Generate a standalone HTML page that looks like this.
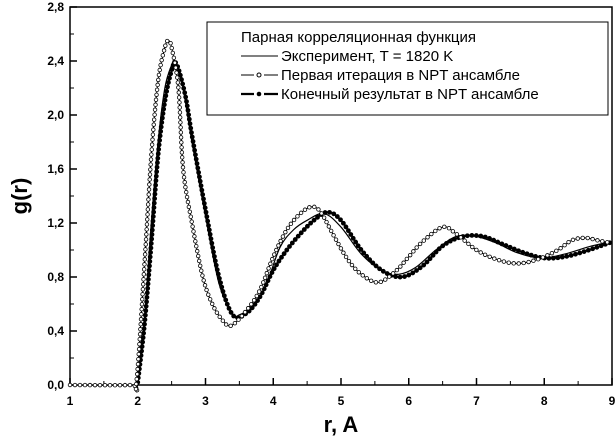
<!DOCTYPE html>
<html><head><meta charset="utf-8"><style>
body{margin:0;background:#fff}
svg text{font-family:"Liberation Sans",Arial,sans-serif;fill:#000}
</style></head><body>
<svg id="c" width="616" height="440" viewBox="0 0 616 440">
<rect x="70" y="7" width="542" height="378" fill="none" stroke="#000" stroke-width="1.5"/>
<g id="ticks"></g>
<g id="series"></g>
<g>
<rect x="207" y="22" width="401" height="93" fill="#fff" stroke="#000" stroke-width="1"/>
<text x="241" y="42" font-size="15">Парная корреляционная функция</text>
<line x1="241" y1="56" x2="278" y2="56" stroke="#000" stroke-width="1"/>
<text x="281" y="61" font-size="15">Эксперимент, T = 1820 K</text>
<path d="M241 75H254M264 75H278" stroke="#000" stroke-width="1"/>
<circle cx="259" cy="75" r="2" fill="#fff" stroke="#000"/>
<text x="281" y="80" font-size="15">Первая итерация в NPT ансамбле</text>
<path d="M241 94H254M264 94H278" stroke="#000" stroke-width="2.2"/>
<circle cx="259" cy="94" r="2.3" fill="#000"/>
<text x="281" y="99" font-size="15">Конечный результат в NPT ансамбле</text>
</g>
<text x="341" y="432" font-size="22" font-weight="bold" text-anchor="middle">r, A</text>
<text transform="translate(27,196) rotate(-90)" font-size="22" font-weight="bold" text-anchor="middle">g(r)</text>
</svg>
<script>
const xTicks=[1,2,3,4,5,6,7,8,9];
const yTicks=[0,0.4,0.8,1.2,1.6,2.0,2.4,2.8];
const yTickLabels=["0,0","0,4","0,8","1,2","1,6","2,0","2,4","2,8"];
const expR=[1,1.9,2.0,2.1,2.2,2.3,2.4,2.5,2.55,2.65,2.8,3.0,3.2,3.4,3.5,3.7,3.9,4.1,4.3,4.5,4.75,5.0,5.3,5.6,5.85,6.1,6.4,6.7,7.0,7.3,7.6,7.95,8.3,8.7,9.0];
const expG=[0,0,0.02,0.5,1.2,1.8,2.2,2.37,2.4,2.25,1.8,1.25,0.75,0.52,0.52,0.58,0.75,1.02,1.15,1.22,1.27,1.17,0.97,0.85,0.82,0.87,1.0,1.1,1.1,1.05,0.98,0.94,0.97,1.03,1.06];
const firstR=[1,1.9,1.98,2.1,2.2,2.3,2.4,2.45,2.5,2.6,2.67,2.8,2.96,3.1,3.25,3.38,3.6,3.8,4.0,4.2,4.4,4.57,4.7,4.9,5.1,5.3,5.55,5.8,6.0,6.2,6.5,6.7,7.0,7.3,7.6,7.9,8.2,8.4,8.6,8.8,9.0];
const firstG=[0,0,0.02,0.9,1.7,2.25,2.5,2.55,2.5,2.2,1.6,1.2,0.8,0.6,0.48,0.44,0.55,0.7,0.95,1.15,1.27,1.32,1.28,1.1,0.93,0.82,0.76,0.84,0.95,1.06,1.17,1.12,1.0,0.93,0.9,0.93,1.0,1.07,1.09,1.07,1.05];
const finR=[2.0,2.1,2.2,2.3,2.4,2.5,2.57,2.7,2.8,3.0,3.2,3.4,3.6,3.8,4.0,4.2,4.4,4.6,4.8,5.0,5.3,5.6,5.9,6.2,6.5,6.8,7.1,7.4,7.7,8.0,8.3,8.6,9.0];
const finG=[0.02,0.45,1.05,1.7,2.1,2.33,2.38,2.15,1.85,1.3,0.8,0.52,0.53,0.65,0.85,1.0,1.12,1.22,1.28,1.22,1.0,0.85,0.8,0.88,1.03,1.1,1.1,1.04,0.98,0.94,0.95,0.99,1.06];
const X=r=>70+(r-1)*67.75, Y=g=>385-g*135;
const NS="http://www.w3.org/2000/svg";
const svg=document.getElementById('c'),tk=document.getElementById('ticks'),sr=document.getElementById('series');
function mk(t,a,p){const e=document.createElementNS(NS,t);for(const k in a)e.setAttribute(k,a[k]);(p||svg).appendChild(e);return e;}
xTicks.forEach((v,i)=>{
 const l=mk('line',{x1:X(v),x2:X(v),y1:385,y2:378,stroke:'#000','stroke-width':1.5},tk);
 
 
 if(i<xTicks.length-1){const m=mk('line',{x1:X(v+0.5),x2:X(v+0.5),y1:385,y2:381,stroke:'#000'},tk);
 
 }
 const t=mk('text',{x:X(v),y:405,'font-size':12,'font-weight':'bold','text-anchor':'middle'},tk);t.textContent=v;
 
 
});
yTicks.forEach((v,i)=>{
 const l=mk('line',{x1:70,x2:77,y1:Y(v),y2:Y(v),stroke:'#000','stroke-width':1.5},tk);
 
 
 if(i<yTicks.length-1){const m=mk('line',{x1:70,x2:74,y1:Y(v+0.2),y2:Y(v+0.2),stroke:'#000'},tk);
 
 }
 const t=mk('text',{x:64,y:Y(v)+4,'font-size':12,'font-weight':'bold','text-anchor':'end'},tk);t.textContent=yTickLabels[i];
 
 
});
function pathD(R,G){const p=R.map((r,i)=>[X(r),Y(G[i])]);let d='M'+p[0];
 for(let i=0;i<p.length-1;i++){const a=p[i-1]||p[i],b=p[i],c=p[i+1],e=p[i+2]||c;
  d+=' C'+(b[0]+(c[0]-a[0])/6)+','+(b[1]+(c[1]-a[1])/6)+' '+(c[0]-(e[0]-b[0])/6)+','+(c[1]-(e[1]-b[1])/6)+' '+c;}return d;}
function series(R,G,w,name,marker,step){
 const p=mk('path',{d:pathD(R,G),fill:'none',stroke:'#000','stroke-width':w},sr);
 
 
 if(!marker)return;
 const L=p.getTotalLength();
 for(let s=0;s<=L;s+=step){const q=p.getPointAtLength(s);
  const c=mk('circle',{cx:q.x,cy:q.y,r:marker==='open'?1.8:2,fill:marker==='open'?'#fff':'#000',stroke:'#000','stroke-width':0.8},sr);
  
  }
}
series(expR,expG,1.2,'experiment-line',null);
series(finR,finG,1.8,'final-result-line','filled',4.5);
series(firstR,firstG,1,'first-iteration-line','open',5);
</script>
</body></html>
